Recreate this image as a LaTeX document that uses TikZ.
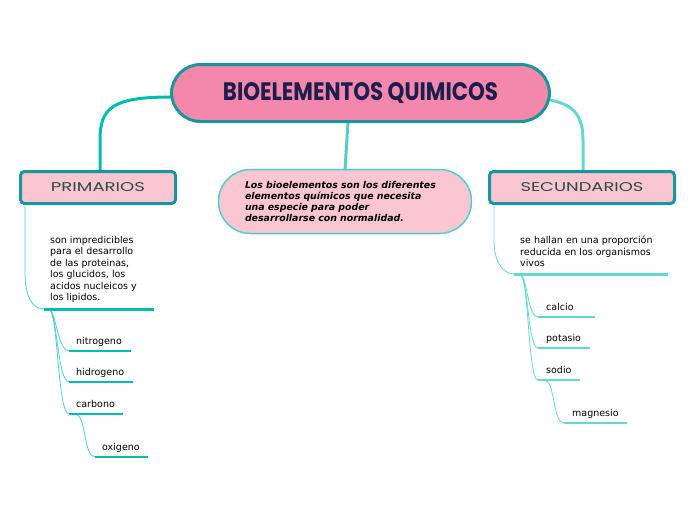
\documentclass[tikz,border=0pt]{standalone}
\usepackage{fontspec}
\setmainfont{DejaVu Sans}
\newfontfamily\titlefont{Poppins}
\usepackage{graphicx}
\definecolor{mainpink}{HTML}{F388AC}
\definecolor{lightpink}{HTML}{F9C6D2}
\definecolor{darkteal}{HTML}{17969B}
\definecolor{tealA}{HTML}{00BDB3}
\definecolor{tealB}{HTML}{62D8D2}
\definecolor{tealC}{HTML}{4ECFCA}
\definecolor{navy}{HTML}{1E1E4E}
\definecolor{boxtext}{HTML}{2C4A48}
\begin{document}
\begin{tikzpicture}[x=1pt,y=-1pt,
  mainbox/.style={draw=darkteal,line width=3pt,fill=mainpink,rounded corners=29pt,minimum width=378pt,minimum height=57pt,inner sep=0pt},
  catbox/.style={draw=darkteal,line width=3pt,fill=lightpink,rounded corners=4pt,minimum height=32pt,inner sep=0pt},
  pill/.style={draw=tealC,line width=1.5pt,fill=lightpink,rounded corners=32pt,minimum width=253pt,minimum height=64pt,inner sep=0pt,text width=200pt,align=left,font=\bfseries\itshape\fontsize{9.4}{11.3}\selectfont},
  para/.style={anchor=north west,inner sep=0pt,align=left,font=\fontsize{9.5}{11.5}\selectfont,text=black},
  lbl/.style={anchor=base west,inner sep=0pt,font=\fontsize{9.5}{11}\selectfont,text=black},
  thick1/.style={line width=3pt},
  under/.style={line width=2.5pt},
  thin/.style={line width=0.8pt}]
\useasboundingbox (0,0) rectangle (696,520);

% main connectors
\coordinate (mL) at (171,97);
\coordinate (mR) at (550,100);
\draw[thick1,tealA] (mL) .. controls (112,97) and (100,108) .. (100,140) -- (100,171);
\draw[thick1,tealB] (mR) .. controls (576,105) and (583,118) .. (583,140) -- (583,171);
\draw[thick1,tealC] (348,122) -- (345,170);

% nodes
\node[mainbox] (main) at (360.5,93) {\textcolor{navy}{\resizebox{275pt}{18pt}{\titlefont\bfseries BIOELEMENTOS QUIMICOS}}};
\node[catbox,minimum width=155pt] (prim) at (98,187.5) {\textcolor{boxtext}{\resizebox{94pt}{9pt}{\titlefont PRIMARIOS}}};
\node[catbox,minimum width=185pt] (sec) at (582,187.5) {\textcolor{boxtext}{\resizebox{123pt}{9pt}{\titlefont SECUNDARIOS}}};
\node[pill] (def) at (345,201.5) {Los bioelementos son los diferentes\\elementos químicos que necesita\\una especie para poder\\desarrollarse con normalidad.};

% left branch
\coordinate (pA) at (44,309);
\coordinate (pB) at (154,309);
\draw[thin,tealC] (25,206) -- (25,272) .. controls (25,298) and (33,309) .. (pA);
\draw[thick1,tealA] (pA) -- (pB);
\node[para] (p1) at (50,236) {son impredicibles\\para el desarrollo\\de las proteinas,\\los glucidos, los\\acidos nucleicos y\\los lipidos.};

\coordinate (n1a) at (69,351); \coordinate (n1b) at (131,351);
\coordinate (n2a) at (69,382); \coordinate (n2b) at (133,382);
\coordinate (n3a) at (69,414); \coordinate (n3b) at (123,414);
\coordinate (n4a) at (95,457); \coordinate (n4b) at (148,457);
\coordinate (pS) at (50,310);
\draw[thin,tealC] (pS) .. controls (56,313) and (58,351) .. (n1a);
\draw[thin,tealC] (pS) .. controls (57,315) and (58,382) .. (n2a);
\draw[thin,tealC] (pS) .. controls (58,318) and (58,414) .. (n3a);
\draw[under,tealA] (n1a) -- (n1b);
\draw[under,tealA] (n2a) -- (n2b);
\draw[under,tealA] (n3a) -- (n3b);
\draw[thin,tealC] (77,415) .. controls (86,418) and (84,457) .. (n4a);
\draw[under,tealA] (n4a) -- (n4b);
\node[lbl] (nit) at (76,344) {nitrogeno};
\node[lbl] (hid) at (76,375) {hidrogeno};
\node[lbl] (car) at (76,407) {carbono};
\node[lbl] (oxi) at (102,450) {oxigeno};

% right branch
\coordinate (sA) at (514,274);
\coordinate (sB) at (668,274);
\draw[thin,tealB] (494,206) -- (494,240) .. controls (494,262) and (503,274) .. (sA);
\draw[thick1,tealB] (sA) -- (sB);
\node[para] (p2) at (520,236) {se hallan en una proporción\\reducida en los organismos\\vivos};

\coordinate (c1a) at (538,317); \coordinate (c1b) at (595,317);
\coordinate (c2a) at (538,348); \coordinate (c2b) at (590,348);
\coordinate (c3a) at (538,380); \coordinate (c3b) at (580,380);
\coordinate (c4a) at (564,423); \coordinate (c4b) at (627,423);
\coordinate (sS) at (521,275);
\draw[thin,tealB] (sS) .. controls (527,278) and (528,317) .. (c1a);
\draw[thin,tealB] (sS) .. controls (528,280) and (528,348) .. (c2a);
\draw[thin,tealB] (sS) .. controls (529,283) and (528,380) .. (c3a);
\draw[under,tealB] (c1a) -- (c1b);
\draw[under,tealB] (c2a) -- (c2b);
\draw[under,tealB] (c3a) -- (c3b);
\draw[thin,tealB] (546,381) .. controls (555,384) and (553,423) .. (c4a);
\draw[under,tealB] (c4a) -- (c4b);
\node[lbl] (cal) at (546,310) {calcio};
\node[lbl] (pot) at (546,341) {potasio};
\node[lbl] (sod) at (546,373) {sodio};
\node[lbl] (mag) at (572,416) {magnesio};
\end{tikzpicture}
\end{document}
